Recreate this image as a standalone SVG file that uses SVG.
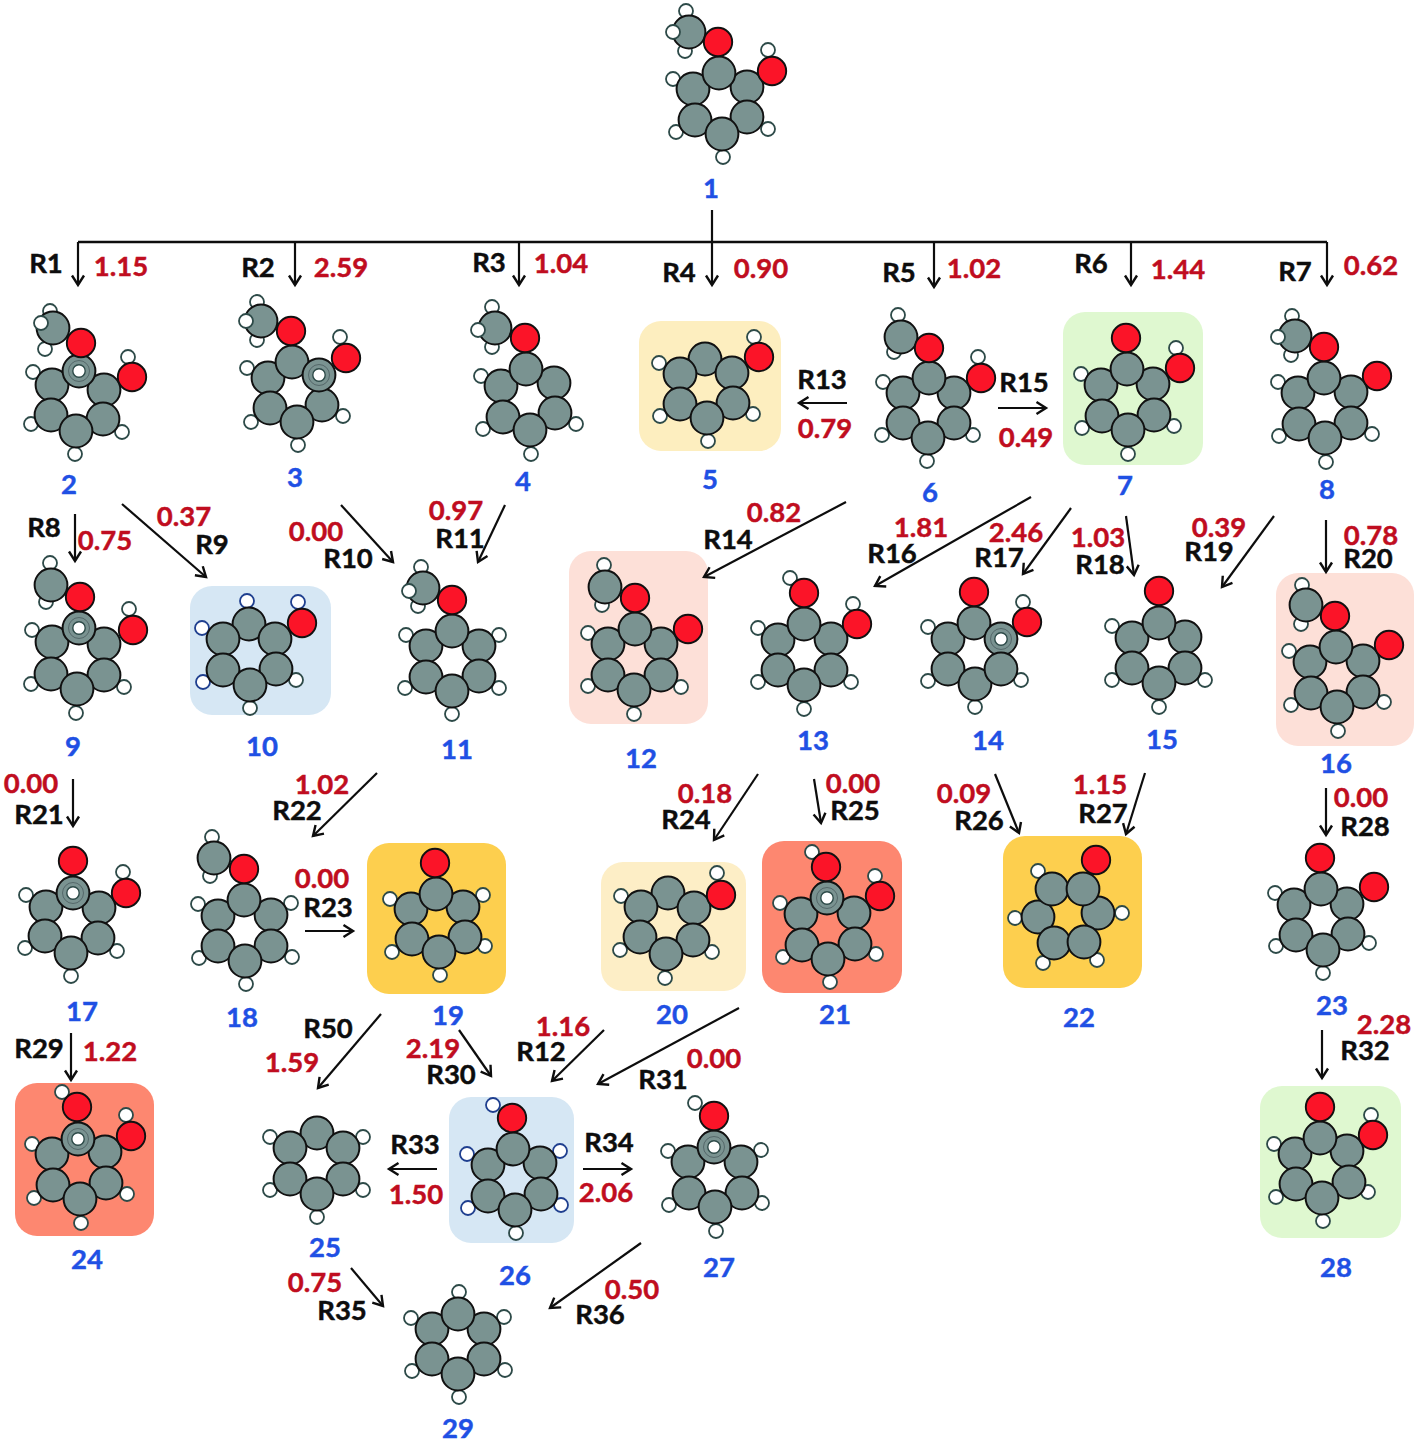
<svg xmlns="http://www.w3.org/2000/svg" width="1418" height="1442" viewBox="0 0 1418 1442">
<style>
text{font-family:"Lato","Liberation Sans",sans-serif;font-weight:700;font-size:27.5px;text-anchor:middle;stroke-width:.45px;paint-order:stroke}
.n{fill:#1f50e4;stroke:#1f50e4}
.e{fill:#c00d20;stroke:#c00d20}
.r{fill:#0d0d0d;stroke:#0d0d0d}
.p{rx:22px;ry:22px}
.ln{fill:none;stroke:#0d0d0d;stroke-width:2.2;marker-end:url(#ah)}
</style>
<defs>
<marker id="ah" markerUnits="userSpaceOnUse" markerWidth="24" markerHeight="24" refX="12" refY="12" orient="auto" overflow="visible"><path d="M2.5,6 L12,12 L2.5,18" fill="none" stroke="#0d0d0d" stroke-width="2.4"/></marker>
<circle id="C" r="16.4" fill="#7a9391" stroke="#111" stroke-width="2"/>
<circle id="O" r="14.2" fill="#fb1428" stroke="#111" stroke-width="1.9"/>
<circle id="H" r="7" fill="#fff" stroke="#2d4a48" stroke-width="1.8"/>
<circle id="B" r="7" fill="#fff" stroke="#1f3f8f" stroke-width="1.8"/>
<g id="X"><circle r="16.4" fill="#7a9391" stroke="#111" stroke-width="2"/><circle r="10.5" fill="none" stroke="#55686a" stroke-width="1"/><circle r="6.2" fill="#fff" stroke="#2d4a48" stroke-width="1.4"/></g>
</defs>
<g id="node-1"><use href="#H" x="768" y="50"/><use href="#H" x="673" y="79"/><use href="#H" x="676" y="132"/><use href="#H" x="768" y="129"/><use href="#H" x="723" y="157"/><use href="#H" x="686" y="11"/><use href="#H" x="685" y="51"/><use href="#C" x="689" y="32"/><use href="#H" x="673" y="32"/><use href="#C" x="693" y="89"/><use href="#C" x="747" y="87"/><use href="#C" x="695" y="120"/><use href="#C" x="747" y="117"/><use href="#C" x="722" y="134"/><use href="#C" x="719" y="73"/><use href="#O" x="718" y="42"/><use href="#O" x="772" y="71"/><text class="n" x="711" y="198">1</text></g>
<g id="node-2"><use href="#H" x="128" y="357"/><use href="#H" x="33" y="372"/><use href="#H" x="31" y="424"/><use href="#H" x="122" y="432"/><use href="#H" x="75" y="454"/><use href="#H" x="50" y="311"/><use href="#H" x="45" y="349"/><use href="#C" x="53" y="328"/><use href="#H" x="41" y="323"/><use href="#C" x="104" y="390"/><use href="#C" x="52" y="385"/><use href="#C" x="103" y="419"/><use href="#C" x="51" y="415"/><use href="#C" x="76" y="431"/><use href="#X" x="79" y="371"/><use href="#O" x="81" y="343"/><use href="#O" x="132" y="377"/><text class="n" x="69" y="494">2</text></g>
<g id="node-3"><use href="#H" x="340" y="337"/><use href="#H" x="247" y="368"/><use href="#H" x="251" y="422"/><use href="#H" x="343" y="416"/><use href="#H" x="298" y="445"/><use href="#H" x="257" y="302"/><use href="#H" x="257" y="340"/><use href="#C" x="261" y="321"/><use href="#H" x="246" y="321"/><use href="#C" x="268" y="378"/><use href="#C" x="270" y="408"/><use href="#C" x="322" y="405"/><use href="#C" x="297" y="422"/><use href="#C" x="292" y="362"/><use href="#X" x="319" y="375"/><use href="#O" x="291" y="331"/><use href="#O" x="346" y="358"/><text class="n" x="295" y="487">3</text></g>
<g id="node-4"><use href="#H" x="481" y="376"/><use href="#H" x="483" y="429"/><use href="#H" x="576" y="424"/><use href="#H" x="531" y="454"/><use href="#H" x="492" y="307"/><use href="#H" x="492" y="347"/><use href="#C" x="495" y="328"/><use href="#H" x="478" y="330"/><use href="#C" x="501" y="386"/><use href="#C" x="554" y="383"/><use href="#C" x="503" y="417"/><use href="#C" x="555" y="413"/><use href="#C" x="530" y="430"/><use href="#C" x="526" y="369"/><use href="#O" x="525" y="338"/><text class="n" x="523" y="491">4</text></g>
<g id="node-5"><rect class="p" x="639" y="321" width="142" height="130" fill="#fdeebf"/><use href="#H" x="754" y="337"/><use href="#H" x="659" y="363"/><use href="#H" x="660" y="416"/><use href="#H" x="753" y="414"/><use href="#H" x="708" y="441"/><use href="#C" x="705" y="359"/><use href="#C" x="680" y="374"/><use href="#C" x="732" y="373"/><use href="#C" x="680" y="404"/><use href="#C" x="733" y="403"/><use href="#C" x="707" y="418"/><use href="#O" x="759" y="357"/><text class="n" x="710" y="489">5</text></g>
<g id="node-6"><use href="#H" x="978" y="357"/><use href="#H" x="883" y="382"/><use href="#H" x="882" y="435"/><use href="#H" x="973" y="435"/><use href="#H" x="927" y="461"/><use href="#H" x="898" y="315"/><use href="#H" x="894" y="352"/><use href="#C" x="901" y="337"/><use href="#C" x="903" y="393"/><use href="#C" x="954" y="393"/><use href="#C" x="903" y="423"/><use href="#C" x="954" y="423"/><use href="#C" x="928" y="438"/><use href="#C" x="929" y="378"/><use href="#O" x="929" y="348"/><use href="#O" x="981" y="378"/><text class="n" x="930" y="502">6</text></g>
<g id="node-7"><rect class="p" x="1063" y="312" width="140" height="153" fill="#dff8d0"/><use href="#H" x="1176" y="348"/><use href="#H" x="1081" y="374"/><use href="#H" x="1082" y="428"/><use href="#H" x="1174" y="426"/><use href="#H" x="1128" y="454"/><use href="#C" x="1101" y="385"/><use href="#C" x="1153" y="384"/><use href="#C" x="1102" y="416"/><use href="#C" x="1154" y="415"/><use href="#C" x="1128" y="430"/><use href="#C" x="1127" y="369"/><use href="#O" x="1126" y="338"/><use href="#O" x="1180" y="368"/><text class="n" x="1125" y="495">7</text></g>
<g id="node-8"><use href="#H" x="1278" y="382"/><use href="#H" x="1279" y="436"/><use href="#H" x="1372" y="434"/><use href="#H" x="1326" y="462"/><use href="#H" x="1292" y="316"/><use href="#H" x="1291" y="355"/><use href="#C" x="1295" y="336"/><use href="#H" x="1278" y="337"/><use href="#C" x="1298" y="393"/><use href="#C" x="1351" y="392"/><use href="#C" x="1299" y="424"/><use href="#C" x="1351" y="423"/><use href="#C" x="1325" y="438"/><use href="#C" x="1324" y="378"/><use href="#O" x="1324" y="347"/><use href="#O" x="1377" y="376"/><text class="n" x="1327" y="499">8</text></g>
<g id="node-9"><use href="#H" x="129" y="609"/><use href="#H" x="32" y="630"/><use href="#H" x="31" y="684"/><use href="#H" x="124" y="687"/><use href="#H" x="76" y="713"/><use href="#H" x="50" y="563"/><use href="#H" x="46" y="602"/><use href="#C" x="51" y="585"/><use href="#C" x="104" y="644"/><use href="#C" x="52" y="642"/><use href="#C" x="51" y="674"/><use href="#C" x="104" y="675"/><use href="#C" x="77" y="689"/><use href="#X" x="79" y="628"/><use href="#O" x="80" y="597"/><use href="#O" x="133" y="630"/><text class="n" x="73" y="756">9</text></g>
<g id="node-10"><rect class="p" x="190" y="586" width="141" height="129" fill="#d6e7f4"/><use href="#B" x="298" y="602"/><use href="#B" x="247" y="601"/><use href="#B" x="202" y="628"/><use href="#B" x="203" y="682"/><use href="#H" x="296" y="680"/><use href="#H" x="250" y="708"/><use href="#C" x="249" y="624"/><use href="#C" x="223" y="639"/><use href="#C" x="275" y="639"/><use href="#C" x="223" y="670"/><use href="#C" x="276" y="669"/><use href="#C" x="250" y="685"/><use href="#O" x="302" y="623"/><text class="n" x="262" y="756">10</text></g>
<g id="node-11"><use href="#H" x="406" y="635"/><use href="#H" x="499" y="635"/><use href="#H" x="405" y="688"/><use href="#H" x="499" y="688"/><use href="#H" x="452" y="714"/><use href="#H" x="421" y="567"/><use href="#H" x="418" y="606"/><use href="#C" x="423" y="588"/><use href="#H" x="409" y="591"/><use href="#C" x="426" y="646"/><use href="#C" x="479" y="646"/><use href="#C" x="426" y="677"/><use href="#C" x="479" y="676"/><use href="#C" x="452" y="691"/><use href="#C" x="452" y="631"/><use href="#O" x="452" y="600"/><text class="n" x="457" y="759">11</text></g>
<g id="node-12"><rect class="p" x="569" y="551" width="139" height="173" fill="#fde0d8"/><use href="#H" x="588" y="633"/><use href="#H" x="588" y="686"/><use href="#H" x="681" y="687"/><use href="#H" x="634" y="714"/><use href="#H" x="604" y="565"/><use href="#H" x="602" y="605"/><use href="#C" x="605" y="587"/><use href="#C" x="608" y="644"/><use href="#C" x="661" y="644"/><use href="#C" x="608" y="675"/><use href="#C" x="661" y="675"/><use href="#C" x="634" y="690"/><use href="#C" x="635" y="629"/><use href="#O" x="635" y="598"/><use href="#O" x="688" y="629"/><text class="n" x="641" y="768">12</text></g>
<g id="node-13"><use href="#H" x="790" y="578"/><use href="#H" x="853" y="604"/><use href="#H" x="758" y="628"/><use href="#H" x="758" y="682"/><use href="#H" x="851" y="682"/><use href="#H" x="804" y="709"/><use href="#C" x="778" y="640"/><use href="#C" x="831" y="639"/><use href="#C" x="778" y="670"/><use href="#C" x="831" y="670"/><use href="#C" x="804" y="685"/><use href="#C" x="804" y="624"/><use href="#O" x="804" y="593"/><use href="#O" x="857" y="624"/><text class="n" x="813" y="750">13</text></g>
<g id="node-14"><use href="#H" x="1023" y="602"/><use href="#H" x="928" y="627"/><use href="#H" x="928" y="681"/><use href="#H" x="1021" y="680"/><use href="#H" x="975" y="707"/><use href="#C" x="948" y="639"/><use href="#C" x="948" y="669"/><use href="#C" x="975" y="684"/><use href="#C" x="974" y="623"/><use href="#X" x="1001" y="639"/><use href="#C" x="1001" y="669"/><use href="#O" x="974" y="592"/><use href="#O" x="1027" y="622"/><text class="n" x="988" y="750">14</text></g>
<g id="node-15"><use href="#H" x="1112" y="626"/><use href="#H" x="1112" y="680"/><use href="#H" x="1205" y="680"/><use href="#H" x="1159" y="707"/><use href="#C" x="1132" y="638"/><use href="#C" x="1185" y="637"/><use href="#C" x="1132" y="668"/><use href="#C" x="1185" y="668"/><use href="#C" x="1159" y="683"/><use href="#C" x="1159" y="623"/><use href="#O" x="1159" y="591"/><text class="n" x="1162" y="749">15</text></g>
<g id="node-16"><rect class="p" x="1276" y="573" width="138" height="173" fill="#fde0d8"/><use href="#H" x="1289" y="651"/><use href="#H" x="1291" y="705"/><use href="#H" x="1384" y="702"/><use href="#H" x="1338" y="731"/><use href="#H" x="1302" y="585"/><use href="#H" x="1301" y="624"/><use href="#C" x="1306" y="605"/><use href="#C" x="1310" y="662"/><use href="#C" x="1363" y="661"/><use href="#C" x="1311" y="693"/><use href="#C" x="1363" y="692"/><use href="#C" x="1337" y="707"/><use href="#C" x="1336" y="647"/><use href="#O" x="1335" y="616"/><use href="#O" x="1389" y="645"/><text class="n" x="1336" y="773">16</text></g>
<g id="node-17"><use href="#H" x="123" y="872"/><use href="#H" x="26" y="895"/><use href="#H" x="25" y="948"/><use href="#H" x="117" y="951"/><use href="#H" x="71" y="976"/><use href="#C" x="46" y="907"/><use href="#C" x="99" y="908"/><use href="#C" x="45" y="936"/><use href="#C" x="98" y="938"/><use href="#C" x="71" y="953"/><use href="#X" x="73" y="893"/><use href="#O" x="73" y="861"/><use href="#O" x="126" y="893"/><text class="n" x="82" y="1021">17</text></g>
<g id="node-18"><use href="#H" x="198" y="904"/><use href="#H" x="291" y="903"/><use href="#H" x="199" y="958"/><use href="#H" x="292" y="957"/><use href="#H" x="246" y="984"/><use href="#H" x="212" y="837"/><use href="#H" x="210" y="876"/><use href="#C" x="214" y="858"/><use href="#C" x="218" y="916"/><use href="#C" x="271" y="915"/><use href="#C" x="218" y="946"/><use href="#C" x="271" y="946"/><use href="#C" x="245" y="961"/><use href="#C" x="244" y="900"/><use href="#O" x="244" y="869"/><text class="n" x="242" y="1027">18</text></g>
<g id="node-19"><rect class="p" x="367" y="843" width="139" height="151" fill="#fdcf4e"/><use href="#H" x="390" y="899"/><use href="#H" x="483" y="895"/><use href="#H" x="392" y="952"/><use href="#H" x="485" y="946"/><use href="#H" x="440" y="975"/><use href="#C" x="411" y="909"/><use href="#C" x="463" y="907"/><use href="#C" x="412" y="939"/><use href="#C" x="465" y="937"/><use href="#C" x="439" y="952"/><use href="#C" x="436" y="894"/><use href="#O" x="435" y="863"/><text class="n" x="448" y="1025">19</text></g>
<g id="node-20"><rect class="p" x="601" y="862" width="145" height="129" fill="#fdeec6"/><use href="#H" x="717" y="873"/><use href="#H" x="621" y="896"/><use href="#H" x="620" y="950"/><use href="#H" x="712" y="952"/><use href="#H" x="665" y="978"/><use href="#C" x="668" y="893"/><use href="#C" x="641" y="907"/><use href="#C" x="694" y="908"/><use href="#C" x="640" y="937"/><use href="#C" x="693" y="940"/><use href="#C" x="666" y="954"/><use href="#O" x="721" y="895"/><text class="n" x="672" y="1024">20</text></g>
<g id="node-21"><rect class="p" x="762" y="841" width="140" height="152" fill="#fd8770"/><use href="#H" x="812" y="852"/><use href="#H" x="875" y="876"/><use href="#H" x="780" y="903"/><use href="#H" x="783" y="957"/><use href="#H" x="876" y="954"/><use href="#H" x="830" y="982"/><use href="#C" x="801" y="914"/><use href="#C" x="854" y="913"/><use href="#C" x="802" y="945"/><use href="#C" x="855" y="944"/><use href="#C" x="828" y="959"/><use href="#X" x="827" y="898"/><use href="#O" x="826" y="867"/><use href="#O" x="880" y="896"/><text class="n" x="835" y="1024">21</text></g>
<g id="node-22"><rect class="p" x="1003" y="836" width="139" height="152" fill="#fdcf4e"/><use href="#H" x="1038" y="871"/><use href="#H" x="1015" y="918"/><use href="#H" x="1122" y="913"/><use href="#H" x="1043" y="963"/><use href="#H" x="1097" y="960"/><use href="#C" x="1038" y="917"/><use href="#C" x="1098" y="913"/><use href="#C" x="1054" y="943"/><use href="#C" x="1084" y="942"/><use href="#C" x="1052" y="889"/><use href="#C" x="1083" y="889"/><use href="#O" x="1096" y="860"/><text class="n" x="1079" y="1027">22</text></g>
<g id="node-23"><use href="#H" x="1275" y="893"/><use href="#H" x="1276" y="946"/><use href="#H" x="1369" y="943"/><use href="#H" x="1323" y="973"/><use href="#C" x="1294" y="905"/><use href="#C" x="1347" y="904"/><use href="#C" x="1296" y="935"/><use href="#C" x="1348" y="934"/><use href="#C" x="1323" y="950"/><use href="#C" x="1321" y="889"/><use href="#O" x="1320" y="858"/><use href="#O" x="1374" y="887"/><text class="n" x="1332" y="1015">23</text></g>
<g id="node-24"><rect class="p" x="15" y="1083" width="139" height="153" fill="#fd8770"/><use href="#H" x="62" y="1092"/><use href="#H" x="126" y="1115"/><use href="#H" x="32" y="1144"/><use href="#H" x="34" y="1198"/><use href="#H" x="127" y="1194"/><use href="#H" x="81" y="1223"/><use href="#C" x="52" y="1154"/><use href="#C" x="105" y="1152"/><use href="#C" x="53" y="1185"/><use href="#C" x="106" y="1183"/><use href="#C" x="80" y="1199"/><use href="#X" x="78" y="1139"/><use href="#O" x="77" y="1107"/><use href="#O" x="131" y="1136"/><text class="n" x="87" y="1269">24</text></g>
<g id="node-25"><use href="#H" x="270" y="1137"/><use href="#H" x="363" y="1137"/><use href="#H" x="270" y="1190"/><use href="#H" x="363" y="1190"/><use href="#H" x="317" y="1217"/><use href="#C" x="317" y="1133"/><use href="#C" x="290" y="1148"/><use href="#C" x="343" y="1148"/><use href="#C" x="290" y="1179"/><use href="#C" x="343" y="1179"/><use href="#C" x="317" y="1194"/><text class="n" x="325" y="1257">25</text></g>
<g id="node-26"><rect class="p" x="449" y="1097" width="125" height="146" fill="#d6e7f4"/><use href="#B" x="493" y="1105"/><use href="#B" x="467" y="1154"/><use href="#B" x="560" y="1151"/><use href="#B" x="468" y="1208"/><use href="#B" x="561" y="1205"/><use href="#H" x="516" y="1233"/><use href="#C" x="488" y="1165"/><use href="#C" x="540" y="1163"/><use href="#C" x="488" y="1196"/><use href="#C" x="541" y="1194"/><use href="#C" x="515" y="1210"/><use href="#C" x="513" y="1149"/><use href="#O" x="512" y="1118"/><text class="n" x="515" y="1285">26</text></g>
<g id="node-27"><use href="#H" x="695" y="1103"/><use href="#H" x="668" y="1151"/><use href="#H" x="761" y="1150"/><use href="#H" x="669" y="1205"/><use href="#H" x="762" y="1203"/><use href="#H" x="716" y="1231"/><use href="#C" x="688" y="1162"/><use href="#C" x="741" y="1162"/><use href="#C" x="689" y="1193"/><use href="#C" x="742" y="1193"/><use href="#C" x="715" y="1207"/><use href="#X" x="714" y="1147"/><use href="#O" x="714" y="1116"/><text class="n" x="719" y="1277">27</text></g>
<g id="node-28"><rect class="p" x="1260" y="1086" width="141" height="152" fill="#dff8d0"/><use href="#H" x="1371" y="1115"/><use href="#H" x="1274" y="1144"/><use href="#H" x="1276" y="1197"/><use href="#H" x="1368" y="1192"/><use href="#H" x="1323" y="1221"/><use href="#C" x="1295" y="1154"/><use href="#C" x="1347" y="1151"/><use href="#C" x="1296" y="1184"/><use href="#C" x="1349" y="1182"/><use href="#C" x="1322" y="1198"/><use href="#C" x="1320" y="1138"/><use href="#O" x="1320" y="1107"/><use href="#O" x="1373" y="1135"/><text class="n" x="1336" y="1277">28</text></g>
<g id="node-29"><use href="#H" x="459" y="1292"/><use href="#H" x="411" y="1318"/><use href="#H" x="504" y="1317"/><use href="#H" x="412" y="1371"/><use href="#H" x="505" y="1370"/><use href="#H" x="459" y="1397"/><use href="#C" x="432" y="1329"/><use href="#C" x="484" y="1329"/><use href="#C" x="432" y="1359"/><use href="#C" x="484" y="1359"/><use href="#C" x="458" y="1374"/><use href="#C" x="458" y="1314"/><text class="n" x="458" y="1438">29</text></g>
<g id="connectors">
<path d="M78,242H1327" fill="none" stroke="#0d0d0d" stroke-width="2.4"/>
<path class="ln" d="M78,242V285"/><path class="ln" d="M295,242V285"/><path class="ln" d="M519,242V285"/><path class="ln" d="M712,210V285"/><path class="ln" d="M934,242V287"/><path class="ln" d="M1131,242V285"/><path class="ln" d="M1327,242V285"/>
<path class="ln" d="M847,403H799"/><path class="ln" d="M998,408H1046"/><path class="ln" d="M75,514V561"/><path class="ln" d="M122,504L206,577"/><path class="ln" d="M341,505L393,562"/><path class="ln" d="M505,505L478,562"/><path class="ln" d="M846,502L704,577"/><path class="ln" d="M1031,497L875,586"/><path class="ln" d="M1071,508L1023,574"/><path class="ln" d="M1126,516L1134,575"/><path class="ln" d="M1274,516L1222,587"/><path class="ln" d="M1326,520V572"/>
<path class="ln" d="M73,779V826"/><path class="ln" d="M377,773L313,836"/><path class="ln" d="M758,774L714,840"/><path class="ln" d="M814,779L821,823"/><path class="ln" d="M995,774L1019,833"/><path class="ln" d="M1145,773L1126,834"/><path class="ln" d="M1326,788V835"/><path class="ln" d="M305,931H353"/>
<path class="ln" d="M71,1033V1080"/><path class="ln" d="M381,1014L318,1088"/><path class="ln" d="M459,1030L491,1076"/><path class="ln" d="M604,1030L552,1081"/><path class="ln" d="M739,1008L598,1084"/><path class="ln" d="M1322,1030V1078"/><path class="ln" d="M437,1169H389"/><path class="ln" d="M583,1169H631"/><path class="ln" d="M351,1268L383,1306"/><path class="ln" d="M641,1243L550,1308"/>
</g>
<g id="energies">
<text class="e" x="121" y="276">1.15</text><text class="e" x="341" y="277">2.59</text><text class="e" x="561" y="273">1.04</text><text class="e" x="761" y="278">0.90</text><text class="e" x="974" y="278">1.02</text><text class="e" x="1178" y="279">1.44</text><text class="e" x="1371" y="275">0.62</text>
<text class="e" x="825" y="438">0.79</text><text class="e" x="1026" y="447">0.49</text><text class="e" x="105" y="550">0.75</text><text class="e" x="184" y="526">0.37</text><text class="e" x="316" y="541">0.00</text><text class="e" x="456" y="520">0.97</text><text class="e" x="774" y="522">0.82</text><text class="e" x="921" y="537">1.81</text><text class="e" x="1016" y="542">2.46</text><text class="e" x="1098" y="547">1.03</text><text class="e" x="1219" y="537">0.39</text><text class="e" x="1371" y="545">0.78</text>
<text class="e" x="31" y="793">0.00</text><text class="e" x="322" y="794">1.02</text><text class="e" x="705" y="803">0.18</text><text class="e" x="853" y="793">0.00</text><text class="e" x="964" y="803">0.09</text><text class="e" x="1100" y="794">1.15</text><text class="e" x="1361" y="807">0.00</text><text class="e" x="322" y="888">0.00</text>
<text class="e" x="1384" y="1034">2.28</text><text class="e" x="292" y="1072">1.59</text><text class="e" x="433" y="1058">2.19</text><text class="e" x="563" y="1036">1.16</text><text class="e" x="714" y="1068">0.00</text><text class="e" x="110" y="1061">1.22</text><text class="e" x="416" y="1204">1.50</text><text class="e" x="606" y="1202">2.06</text><text class="e" x="315" y="1292">0.75</text><text class="e" x="632" y="1299">0.50</text>
</g>
<g id="reactions">
<text class="r" x="46" y="273">R1</text><text class="r" x="258" y="277">R2</text><text class="r" x="489" y="272">R3</text><text class="r" x="679" y="282">R4</text><text class="r" x="899" y="282">R5</text><text class="r" x="1091" y="273">R6</text><text class="r" x="1295" y="281">R7</text>
<text class="r" x="822" y="389">R13</text><text class="r" x="1024" y="392">R15</text><text class="r" x="44" y="537">R8</text><text class="r" x="212" y="554">R9</text><text class="r" x="348" y="568">R10</text><text class="r" x="460" y="548">R11</text><text class="r" x="728" y="549">R14</text><text class="r" x="892" y="563">R16</text><text class="r" x="999" y="567">R17</text><text class="r" x="1100" y="574">R18</text><text class="r" x="1209" y="561">R19</text><text class="r" x="1368" y="568">R20</text>
<text class="r" x="39" y="824">R21</text><text class="r" x="297" y="820">R22</text><text class="r" x="686" y="829">R24</text><text class="r" x="855" y="820">R25</text><text class="r" x="979" y="830">R26</text><text class="r" x="1103" y="823">R27</text><text class="r" x="1365" y="836">R28</text><text class="r" x="328" y="917">R23</text>
<text class="r" x="39" y="1058">R29</text><text class="r" x="328" y="1038">R50</text><text class="r" x="451" y="1084">R30</text><text class="r" x="541" y="1061">R12</text><text class="r" x="663" y="1089">R31</text><text class="r" x="1365" y="1060">R32</text><text class="r" x="415" y="1154">R33</text><text class="r" x="609" y="1152">R34</text><text class="r" x="342" y="1320">R35</text><text class="r" x="600" y="1324">R36</text>
</g>
</svg>
